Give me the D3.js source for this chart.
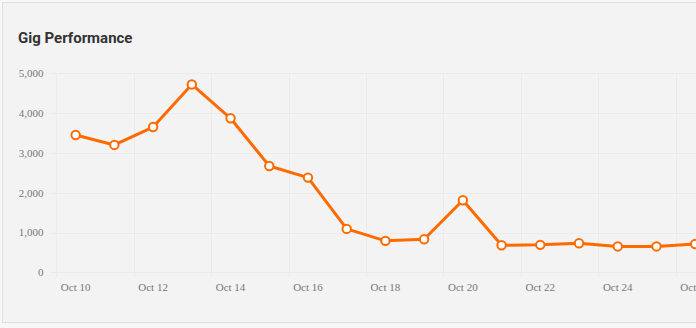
<!DOCTYPE html>
<html>
<head>
<meta charset="utf-8">
<script src="https://cdn.jsdelivr.net/npm/d3@7"></script>
<style>
  html, body { margin: 0; padding: 0; background: #f7f7f7; }
  svg { display: block; }
</style>
</head>
<body>
<script>
// daily values, Oct 10 .. Oct 26
var days = ['2023-10-10', '2023-10-11', '2023-10-12', '2023-10-13', '2023-10-14', '2023-10-15',
            '2023-10-16', '2023-10-17', '2023-10-18', '2023-10-19', '2023-10-20', '2023-10-21',
            '2023-10-22', '2023-10-23', '2023-10-24', '2023-10-25', '2023-10-26'];
var values = [3450, 3200, 3650, 4720, 3870, 2670, 2380, 1090, 790, 830, 1810, 680, 690, 730, 650, 650, 710];
var yTicks = [0, 1000, 2000, 3000, 4000, 5000];
var xTickDays = ['2023-10-10', '2023-10-12', '2023-10-14', '2023-10-16', '2023-10-18',
                 '2023-10-20', '2023-10-22', '2023-10-24', '2023-10-26'];

var width = 696, height = 328;
var parse = d3.timeParse('%Y-%m-%d');
var noon = d => d3.timeHour.offset(parse(d), 12);

var svg = d3.select('body').append('svg')
    .attr('width', width)
    .attr('height', height);

// card
svg.append('rect')
    .attr('x', 2.5).attr('y', 2.5)
    .attr('width', width + 10).attr('height', 320)
    .attr('fill', '#f3f3f3')
    .attr('stroke', '#dedede');

svg.append('text')
    .attr('x', 18).attr('y', 43)
    .style('font', 'bold 15px Roboto, sans-serif')
    .style('fill', '#333')
    .text('Gig Performance');

var x = d3.scaleTime()
    .domain([parse(days[0]), parse(days[16])])
    .range([56.3, 56.3 + 16 * 38.72]);

var y = d3.scaleLinear()
    .domain([0, 5000])
    .range([272.3, 73.3]);

var grid = svg.append('g').attr('stroke', '#ebebeb').attr('stroke-width', 1);

grid.selectAll('.hg').data(yTicks).enter().append('line')
    .attr('x1', 50).attr('x2', width)
    .attr('y1', d => Math.round(y(d)) + 0.5)
    .attr('y2', d => Math.round(y(d)) + 0.5);

grid.selectAll('.vg').data(xTickDays).enter().append('line')
    .attr('x1', d => Math.round(x(parse(d))) + 0.5)
    .attr('x2', d => Math.round(x(parse(d))) + 0.5)
    .attr('y1', 73).attr('y2', 277);

var labelFont = '11px "Liberation Serif", serif';

svg.append('g').selectAll('text').data(yTicks).enter().append('text')
    .attr('x', 43.5)
    .attr('y', d => y(d))
    .attr('dy', '0.35em')
    .style('text-anchor', 'end')
    .style('font', labelFont)
    .style('fill', '#777')
    .text(d3.format(','));

svg.append('g').selectAll('text').data(xTickDays).enter().append('text')
    .attr('x', d => x(noon(d)))
    .attr('y', 291)
    .style('text-anchor', 'middle')
    .style('font', labelFont)
    .style('fill', '#777')
    .text(d => d3.timeFormat('%b %-d')(parse(d)));

var pts = days.map((d, i) => ({ date: noon(d), v: values[i] }));

svg.append('path')
    .datum(pts)
    .attr('fill', 'none')
    .attr('stroke', '#ff6a00')
    .attr('stroke-width', 3)
    .attr('stroke-linejoin', 'round')
    .attr('d', d3.line().x(d => x(d.date)).y(d => y(d.v)));

svg.append('g').selectAll('circle').data(pts).enter().append('circle')
    .attr('cx', d => x(d.date))
    .attr('cy', d => y(d.v))
    .attr('r', 4.2)
    .attr('fill', '#fff')
    .attr('stroke', '#ff6a00')
    .attr('stroke-width', 2);
</script>
</body>
</html>
